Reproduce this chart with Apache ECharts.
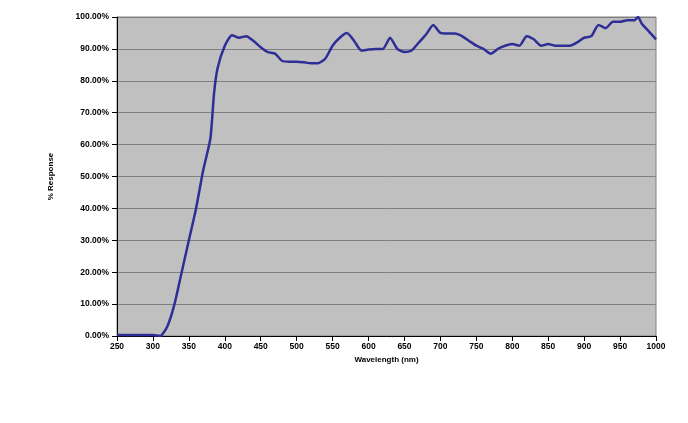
<!DOCTYPE html>
<html>
<head>
<meta charset="utf-8">
<script src="https://cdn.jsdelivr.net/npm/echarts@6/dist/echarts.min.js"></script>
<style>html,body{margin:0;padding:0;background:#fff}#chart{width:688px;height:423px}</style>
</head>
<body>
<div id="chart"></div>
<script>
// wavelength (nm) and response (%)
var wavelength = [250,260,270,280,290,300,310,320,330,340,350,360,370,380,385,390,400,410,420,430,440,450,460,470,480,490,500,510,520,530,540,550,560,570,580,590,600,610,620,630,640,650,660,670,680,690,700,710,720,730,740,750,760,770,780,790,800,810,820,830,840,850,860,870,880,890,900,910,920,930,940,950,960,970,975,980,990,1000];
var response = [0.4,0.3,0.3,0.3,0.3,0.3,0,3,10,20,30,40,52,62,76,84,91,94.3,93.5,94,92.5,90.5,89,88.5,86.2,86,86,85.8,85.5,85.5,87,91,93.5,95,92.5,89.5,89.8,90,90,93.5,90,89,89.5,92,94.5,97.5,95,94.8,94.8,94,92.5,91,90,88.5,90,91,91.5,91,94,93,91,91.5,91,91,91,92,93.5,94,97.5,96.5,98.5,98.5,99,99,100,98,95.5,93];

var pts = [];
for (var i = 0; i < wavelength.length; i++) {
    pts.push([wavelength[i], response[i]]);
}

var myChart = echarts.init(document.getElementById("chart"));
var option = {
    animation: false,
    grid: {
        left: 117,
        right: 32,
        top: 17,
        bottom: 87,
        show: true,
        backgroundColor: "#c0c0c0",
        borderColor: "#808080",
        borderWidth: 1
    },
    xAxis: {
        type: "value",
        min: 250,
        max: 1000,
        interval: 50,
        name: "Wavelength (nm)",
        nameLocation: "middle",
        nameGap: 18,
        nameTextStyle: { fontFamily: "Liberation Sans", fontWeight: "bold", fontSize: 8, color: "#000" },
        axisLine: { lineStyle: { color: "#000" } },
        axisTick: { show: true, lineStyle: { color: "#000" } },
        splitLine: { show: false },
        axisLabel: {
            fontFamily: "Liberation Sans", fontWeight: "bold", fontSize: 8.5, color: "#000", margin: 6,
            formatter: function (v) { return String(v); }
        }
    },
    yAxis: {
        type: "value",
        min: 0,
        max: 100,
        interval: 10,
        name: "% Response",
        nameLocation: "middle",
        nameGap: 62,
        nameTextStyle: { fontFamily: "Liberation Sans", fontWeight: "bold", fontSize: 8, color: "#000" },
        axisLine: { show: true, lineStyle: { color: "#000" } },
        axisTick: { show: true, lineStyle: { color: "#000" } },
        splitLine: { lineStyle: { color: "#808080", width: 1 } },
        axisLabel: {
            fontFamily: "Liberation Sans", fontWeight: "bold", fontSize: 8.5, color: "#000",
            formatter: function (v) { return v.toFixed(2) + "%"; }
        }
    },
    series: [{
        type: "line",
        data: pts,
        showSymbol: false,
        smooth: 0.2,
        lineStyle: { color: "#2e2e96", width: 2.5 }
    }]
};
myChart.setOption(option);
window.addEventListener("resize", function () {
    myChart.resize();
});
</script>
</body>
</html>
